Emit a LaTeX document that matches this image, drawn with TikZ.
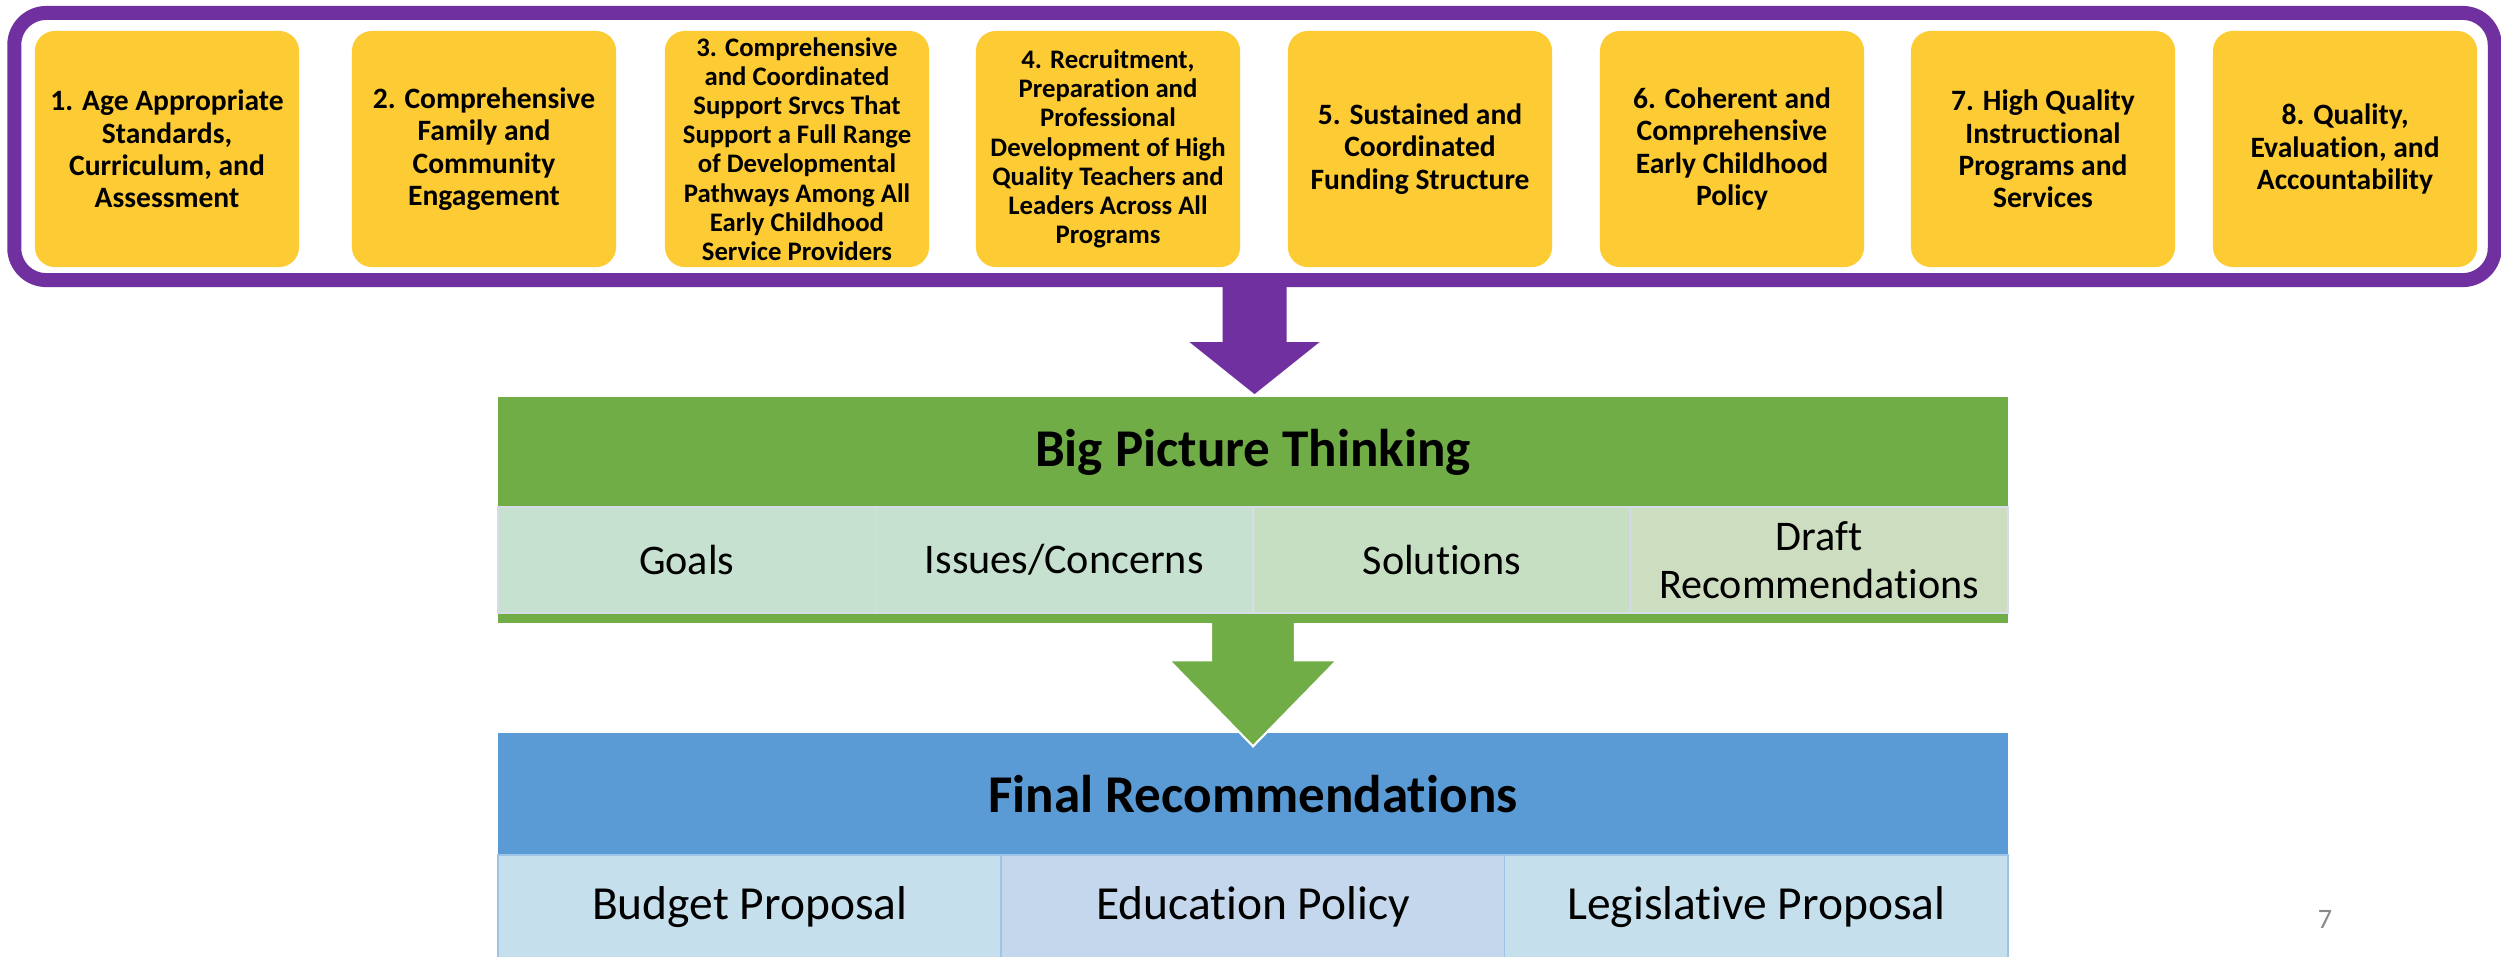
\documentclass[tikz,border=0pt]{standalone}
\usepackage{fontspec}
\setmainfont{Carlito}[Ligatures=NoCommon]

\definecolor{framepurple}{HTML}{7030A0}
\definecolor{boxyellow}{HTML}{FDCB33}
\definecolor{headgreen}{HTML}{70AD47}
\definecolor{headblue}{HTML}{5B9BD5}
\definecolor{cellgreenA}{HTML}{C6E1D0}
\definecolor{cellgreenB}{HTML}{C6DFC3}
\definecolor{cellgreenC}{HTML}{CDDDC0}
\definecolor{cellblueA}{HTML}{C6DFEC}
\definecolor{cellblueB}{HTML}{C5D7EC}
\definecolor{cellline}{HTML}{D6DCE9}
\definecolor{bluecellline}{HTML}{9DC3E6}
\definecolor{pagegray}{HTML}{898989}

\newcommand{\bxfont}     {\fontsize{8.4}{9.2}\selectfont\bfseries}
\newcommand{\smallbxfont}{\fontsize{7.6}{8.3}\selectfont\bfseries}
\newcommand{\headfont}   {\fontsize{15.1}{18}\selectfont\bfseries}
\newcommand{\gcellfont}  {\fontsize{12}{13.5}\selectfont}
\newcommand{\bcellfont}  {\fontsize{13.5}{16}\selectfont}

\tikzset{
  frame/.style={draw=framepurple, line width=0.14cm, rounded corners=0.32cm,
    minimum width=24.79cm, minimum height=2.67cm, inner sep=0pt},
  ybox/.style={fill=boxyellow, rounded corners=0.2cm, minimum width=2.64cm,
    minimum height=2.36cm, inner sep=0pt, align=center, font=\bxfont},
  greenbg/.style={fill=headgreen, minimum width=15.10cm, minimum height=2.26cm, inner sep=0pt},
  headtext/.style={font=\headfont, inner sep=0pt},
  gcell/.style={draw=cellline, line width=0.5pt, minimum width=3.775cm,
    minimum height=1.06cm, inner sep=0pt, align=center, font=\gcellfont},
  finhead/.style={fill=headblue, minimum width=15.10cm, minimum height=1.22cm,
    inner sep=0pt, font=\headfont},
  bcell/.style={draw=bluecellline, line width=0.5pt, minimum width=5.033cm,
    minimum height=1.04cm, inner sep=0pt, font=\bcellfont},
  blockarrow/.style={draw=white, line width=0.6pt, line join=miter}
}

\begin{document}
\begin{tikzpicture}[x=0.01cm,y=-0.01cm]
   \useasboundingbox (0,0) rectangle (2501,956);
   \fill[white] (0,0) rectangle (2501,956);

   % the eight areas
   \node[frame] (frame) at (1254.5,146.5) {};
   \node[ybox] (b1) at (167,149)  {1. Age Appropriate\\Standards,\\Curriculum, and\\Assessment};
   \node[ybox] (b2) at (484,149)  {2. Comprehensive\\Family and\\Community\\Engagement};
   \node[ybox, font=\smallbxfont] (b3) at (797,149)
      {3. Comprehensive\\and Coordinated\\Support Srvcs That\\Support a Full Range\\of Developmental\\Pathways Among All\\Early Childhood\\Service Providers};
   \node[ybox, font=\smallbxfont] (b4) at (1108,149)
      {4. Recruitment,\\Preparation and\\Professional\\Development of High\\Quality Teachers and\\Leaders Across All\\Programs};
   \node[ybox] (b5) at (1420,149) {5. Sustained and\\Coordinated\\Funding Structure};
   \node[ybox] (b6) at (1732,149) {6. Coherent and\\Comprehensive\\Early Childhood\\Policy};
   \node[ybox] (b7) at (2043,149) {7. High Quality\\Instructional\\Programs and\\Services};
   \node[ybox] (b8) at (2345,149) {8. Quality,\\Evaluation, and\\Accountability};

   \fill[framepurple] (frame.south) ++(-32,-8) -- ++(0,63) -- ++(-33,0) -- ++(65,52)
      -- ++(65,-52) -- ++(-33,0) -- ++(0,-63) -- cycle;

   % final recommendations
   \node[finhead] (fin) at (1253,794) {Final Recommendations};
   \node[bcell, fill=cellblueA] (budget) at (749.7,907) {Budget Proposal};
   \node[bcell, fill=cellblueB] (edu)    at (1253,907)  {Education Policy};
   \node[bcell, fill=cellblueA] (legis)  at (1756.3,907) {Legislative Proposal};

   \filldraw[blockarrow, fill=headgreen] (fin.north) ++(0,14) -- ++(-84,-86) -- ++(42,0)
      -- ++(0,-60) -- ++(84,0) -- ++(0,60) -- ++(42,0) -- cycle;

   % big picture thinking
   \node[greenbg] (bigbg) at (1253,510) {};
   \node[headtext] (bigt) at (1253,452) {Big Picture Thinking};
   \node[gcell, fill=cellgreenA] (goals)  at (686.75,560)  {Goals};
   \node[gcell, fill=cellgreenA] (issues) at (1064.25,560) {Issues/Concerns};
   \node[gcell, fill=cellgreenB] (sol)    at (1441.75,560) {Solutions};
   \node[gcell, fill=cellgreenC] (draft)  at (1819.25,560) {Draft\\Recommendations};

   \node[text=pagegray, font=\fontsize{8}{9}\selectfont] (pnum) at (2325,919) {7};
\end{tikzpicture}
\end{document}
